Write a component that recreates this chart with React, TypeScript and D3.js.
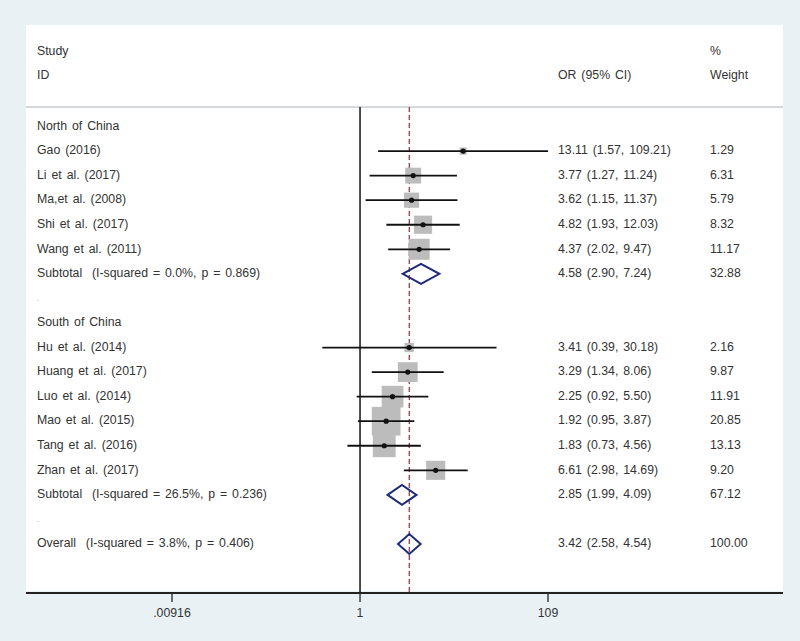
import React from "react";
import * as d3 from "d3";

const rowLabels = [
  "North of China",
  "Gao (2016)",
  "Li et al. (2017)",
  "Ma,et al. (2008)",
  "Shi et al. (2017)",
  "Wang et al. (2011)",
  "Subtotal  (I-squared = 0.0%, p = 0.869)",
  ".",
  "South of China",
  "Hu et al. (2014)",
  "Huang et al. (2017)",
  "Luo et al. (2014)",
  "Mao et al. (2015)",
  "Tang et al. (2016)",
  "Zhan et al. (2017)",
  "Subtotal  (I-squared = 26.5%, p = 0.236)",
  ".",
  "Overall  (I-squared = 3.8%, p = 0.406)",
];
const rowTypes = [
  "group", "study", "study", "study", "study", "study", "pooled", "blank",
  "group", "study", "study", "study", "study", "study", "study", "pooled", "blank", "pooled",
];
const orValues = [null, 13.11, 3.77, 3.62, 4.82, 4.37, 4.58, null, null, 3.41, 3.29, 2.25, 1.92, 1.83, 6.61, 2.85, null, 3.42];
const ciLow = [null, 1.57, 1.27, 1.15, 1.93, 2.02, 2.9, null, null, 0.39, 1.34, 0.92, 0.95, 0.73, 2.98, 1.99, null, 2.58];
const ciHigh = [null, 109.21, 11.24, 11.37, 12.03, 9.47, 7.24, null, null, 30.18, 8.06, 5.5, 3.87, 4.56, 14.69, 4.09, null, 4.54];
const weights = [null, 1.29, 6.31, 5.79, 8.32, 11.17, 32.88, null, null, 2.16, 9.87, 11.91, 20.85, 13.13, 9.2, 67.12, null, 100.0];

const tickValues = [0.00916, 1, 109];
const tickLabels = [".00916", "1", "109"];
const overallOR = 3.42;

const W = 800;
const H = 641;
const FONT = "'Liberation Sans', Arial, sans-serif";
const TEXT = "#333";

export default function App() {
  const x = d3.scaleLog().domain([0.00916, 109]).range([172, 548]);
  const y = d3.scaleLinear().domain([0, rowLabels.length - 1]).range([126.5, 544]);
  const sq = d3.scaleSqrt().domain([0, 1]).range([0, 6.3]);
  const top = 107;
  const axisY = 593;
  const fs = 12.3;
  const ws = 1.5;
  const tstyle = { whiteSpace: "pre" as const, wordSpacing: ws };

  return (
    <svg
      width={W}
      height={H}
      style={{ position: "absolute", left: 0, top: 0 }}
      fontFamily={FONT}
    >
      <rect x={0} y={0} width={W} height={H} fill="#e9f1f5" />
      <rect x={26} y={25} width={757} height={566} fill="#ffffff" />
      {/* header */}
      <text x={37} y={52} fontSize={fs} fill={TEXT} dominantBaseline="middle">Study</text>
      <text x={37} y={76} fontSize={fs} fill={TEXT} dominantBaseline="middle">ID</text>
      <text x={558} y={76} fontSize={fs} fill={TEXT} dominantBaseline="middle" style={tstyle}>OR (95% CI)</text>
      <text x={710} y={52} fontSize={fs} fill={TEXT} dominantBaseline="middle">%</text>
      <text x={710} y={76} fontSize={fs} fill={TEXT} dominantBaseline="middle">Weight</text>
      <line x1={26} x2={783} y1={top} y2={top} stroke="#c9cccf" strokeWidth={1.5} />

      {/* null line */}
      <line x1={x(1)} x2={x(1)} y1={top} y2={axisY} stroke="#111" strokeWidth={1.5} />
      {/* overall dashed line */}
      <line x1={x(overallOR)} x2={x(overallOR)} y1={top} y2={axisY} stroke="#9a3a4c" strokeWidth={1.3} strokeDasharray="5,3" />

      {/* rows */}
      {rowLabels.map((lab, i) => {
        const yy = y(i);
        const t = rowTypes[i];
        const or = orValues[i];
        const lo = ciLow[i];
        const hi = ciHigh[i];
        const w = weights[i];
        return (
          <g key={i}>
            <text
              x={37}
              y={yy}
              fontSize={lab === "." ? 8 : fs}
              fill={lab === "." ? "#999" : TEXT}
              dominantBaseline="middle"
              xmlSpace="preserve"
              style={tstyle}
            >
              {lab}
            </text>
            {t === "study" && or != null && (
              <g>
                <rect
                  x={x(or) - sq(w as number) / 2}
                  y={yy - sq(w as number) / 2}
                  width={sq(w as number)}
                  height={sq(w as number)}
                  fill="#bcbcbc"
                />
                <line x1={x(lo as number)} x2={x(hi as number)} y1={yy} y2={yy} stroke="#111" strokeWidth={1.8} />
                <circle cx={x(or)} cy={yy} r={2.6} fill="#111" />
              </g>
            )}
            {t === "pooled" && or != null && (
              <path
                d={`M${x(lo as number)},${yy} L${x(or)},${yy - 10} L${x(hi as number)},${yy} L${x(or)},${yy + 10} Z`}
                fill="none"
                stroke="#1f2a7a"
                strokeWidth={2}
              />
            )}
            {or != null && (
              <text x={558} y={yy} fontSize={fs} fill={TEXT} dominantBaseline="middle" style={tstyle}>
                {`${or.toFixed(2)} (${(lo as number).toFixed(2)}, ${(hi as number).toFixed(2)})`}
              </text>
            )}
            {w != null && (
              <text x={710} y={yy} fontSize={fs} fill={TEXT} dominantBaseline="middle">
                {w.toFixed(2)}
              </text>
            )}
          </g>
        );
      })}

      {/* axis */}
      <line x1={26} x2={783} y1={axisY} y2={axisY} stroke="#222" strokeWidth={1.8} />
      {tickValues.map((v, i) => (
        <g key={i}>
          <line x1={x(v)} x2={x(v)} y1={axisY} y2={axisY + 9} stroke="#222" strokeWidth={1.3} />
          <text x={x(v)} y={614} fontSize={fs} fill={TEXT} textAnchor="middle" dominantBaseline="middle">
            {tickLabels[i]}
          </text>
        </g>
      ))}
    </svg>
  );
}
